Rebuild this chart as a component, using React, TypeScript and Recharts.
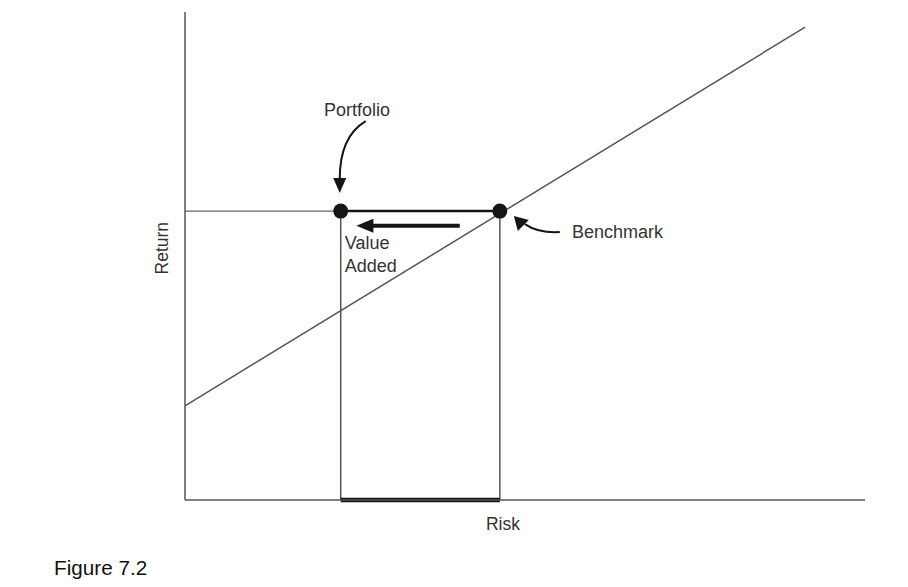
import { ComposedChart, Line, ReferenceLine, Scatter, XAxis, YAxis } from "recharts";

const riskDomain = [0, 100];
const returnDomain = [0, 100];

// benchmark (market) line
const marketLine = [
    { risk: 0, ret: 19.3 },
    { risk: 91.2, ret: 96.9 },
];

const portfolio = { risk: 22.9, ret: 59.2 };
const benchmark = { risk: 46.3, ret: 59.2 };
const dots = [portfolio, benchmark];

// value added arrow
const arrowTail = { risk: 40.4, ret: 56.2 };
const arrowTip = { risk: 25.2, ret: 56.2 };

const curvedArrows = [
    { ...portfolio, kind: "portfolio" },
    { ...benchmark, kind: "benchmark" },
];

const labels = [
    { risk: 25.3, ret: 78.7, text: "Portfolio", anchor: "middle" },
    { risk: 56.9, ret: 53.7, text: "Benchmark", anchor: "start" },
    { risk: 23.5, ret: 51.4, text: "Value", anchor: "start" },
    { risk: 23.5, ret: 46.8, text: "Added", anchor: "start" },
];

const FONT = '"Liberation Sans", Arial, sans-serif';
const TEXT = "#333";
const LINE = "#555";
const DARK = "#151515";

const RiskLabel = (props: any) => {
    const vb = props.viewBox || {};
    return (
        <text x={vb.x + vb.width * 0.4676} y={vb.y + 30} textAnchor="middle"
              fontFamily={FONT} fontSize={17.5} fill={TEXT}>Risk</text>
    );
};

const ReturnLabel = (props: any) => {
    const vb = props.viewBox || {};
    const x = vb.x + vb.width - 17;
    const y = vb.y + vb.height * 0.484;
    return (
        <text x={x} y={y} textAnchor="middle" transform={`rotate(-90 ${x} ${y})`}
              fontFamily={FONT} fontSize={17.5} fill={TEXT}>Return</text>
    );
};

const dotShape = (p: any) => <circle cx={p.cx} cy={p.cy} r={7.5} fill={DARK} />;

const headShape = (p: any) => (
    <path d={`M${p.cx},${p.cy} L${p.cx + 17},${p.cy - 7} L${p.cx + 17},${p.cy + 7} Z`} fill={DARK} />
);

const curvedShape = (p: any) => {
    const { cx, cy } = p;
    if (p.payload.kind === "portfolio") {
        return (
            <g>
                <path d={`M${cx + 25},${cy - 90} C${cx + 8},${cy - 80} ${cx - 1},${cy - 62} ${cx - 1},${cy - 32}`}
                      fill="none" stroke={DARK} strokeWidth={2} />
                <path d={`M${cx - 1},${cy - 18} L${cx - 7.5},${cy - 33} L${cx + 5.5},${cy - 33} Z`} fill={DARK} />
            </g>
        );
    }
    return (
        <g>
            <path d={`M${cx + 60},${cy + 21} C${cx + 44},${cy + 22} ${cx + 34},${cy + 19} ${cx + 25},${cy + 13}`}
                  fill="none" stroke={DARK} strokeWidth={2} />
            <path d={`M${cx + 14},${cy + 5} L${cx + 18},${cy + 20} L${cx + 29},${cy + 9} Z`} fill={DARK} />
        </g>
    );
};

const textShape = (p: any) => (
    <text x={p.cx} y={p.cy} textAnchor={p.payload.anchor} fontFamily={FONT} fontSize={18} fill={TEXT}>
        {p.payload.text}
    </text>
);

const App = () => {
    return (
        <div style={{ position: "absolute", left: 0, top: 0, width: 908, height: 587, background: "#fff" }}>
            <ComposedChart width={908} height={587} margin={{ top: 12, right: 43, bottom: 47, left: 145 }}>
                <XAxis type="number" dataKey="risk" domain={riskDomain} tick={false} tickLine={false} height={40}
                       axisLine={{ stroke: LINE, strokeWidth: 1.5 }} allowDataOverflow label={<RiskLabel />} />
                <YAxis type="number" dataKey="ret" domain={returnDomain} tick={false} tickLine={false} width={40}
                       axisLine={{ stroke: LINE, strokeWidth: 1.5 }} allowDataOverflow label={<ReturnLabel />} />

                <ReferenceLine segment={[{ x: 0, y: portfolio.ret }, { x: portfolio.risk, y: portfolio.ret }]}
                               stroke="#666" strokeWidth={1.3} ifOverflow="visible" />
                <ReferenceLine segment={[{ x: portfolio.risk, y: portfolio.ret }, { x: benchmark.risk, y: benchmark.ret }]}
                               stroke={DARK} strokeWidth={2.5} ifOverflow="visible" />
                <ReferenceLine segment={[{ x: portfolio.risk, y: 0 }, { x: portfolio.risk, y: portfolio.ret }]}
                               stroke={LINE} strokeWidth={1.5} ifOverflow="visible" />
                <ReferenceLine segment={[{ x: benchmark.risk, y: 0 }, { x: benchmark.risk, y: benchmark.ret }]}
                               stroke={LINE} strokeWidth={1.5} ifOverflow="visible" />
                <ReferenceLine segment={[{ x: portfolio.risk, y: 0 }, { x: benchmark.risk, y: 0 }]}
                               stroke={DARK} strokeWidth={4.5} ifOverflow="visible" />
                <ReferenceLine segment={[{ x: arrowTail.risk, y: arrowTail.ret }, { x: arrowTip.risk + 2, y: arrowTip.ret }]}
                               stroke={DARK} strokeWidth={4} ifOverflow="visible" />

                <Line data={marketLine} dataKey="ret" type="linear" stroke={LINE} strokeWidth={1.5}
                      dot={false} activeDot={false} isAnimationActive={false} />

                <Scatter data={[arrowTip]} dataKey="ret" shape={headShape} isAnimationActive={false} />
                <Scatter data={curvedArrows} dataKey="ret" shape={curvedShape} isAnimationActive={false} />
                <Scatter data={dots} dataKey="ret" shape={dotShape} isAnimationActive={false} />
                <Scatter data={labels} dataKey="ret" shape={textShape} isAnimationActive={false} />
            </ComposedChart>
            <div style={{ position: "absolute", left: 54, top: 558, fontFamily: FONT, fontSize: 20.7,
                lineHeight: 1, color: "#111" }}>Figure 7.2</div>
        </div>
    );
};

export default App;
